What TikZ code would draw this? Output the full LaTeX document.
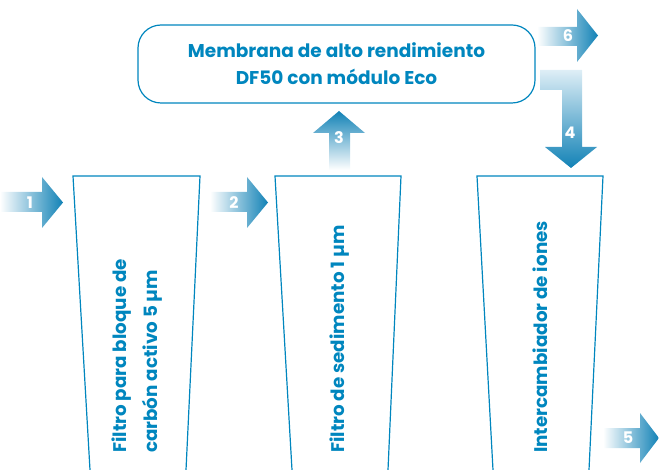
\documentclass[tikz,border=0pt]{standalone}
\usepackage{fontspec}
\setmainfont{Poppins}
\definecolor{ecoblue}{RGB}{0,134,190}
\definecolor{arrowdark}{RGB}{18,130,182}
\definecolor{arrowlight}{RGB}{222,238,246}
\begin{document}
\begin{tikzpicture}[x=1pt,y=-1pt,
  outline/.style={draw=ecoblue,line width=1.2pt},
  harrow/.style={shading=axis,left color=white,right color=arrowdark,draw=none},
  darrow/.style={shading=axis,top color=arrowlight,bottom color=arrowdark,draw=none},
  uarrow/.style={shading=axis,top color=arrowdark,bottom color=white,draw=none},
  num/.style={text=white,font=\bfseries\fontsize{16}{16}\selectfont,inner sep=0pt},
  ftext/.style={text=ecoblue,font=\bfseries\fontsize{18.3}{31}\selectfont,rotate=90,anchor=west,align=left,inner sep=0pt},
  btext/.style={text=ecoblue,font=\bfseries\fontsize{18.5}{27}\selectfont,align=center}]
\useasboundingbox (0,0) rectangle (659,470);
% membrane box
\node[outline,rounded corners=23pt,minimum width=397pt,minimum height=78pt,btext] (membrana) at (336.5,64)
  {Membrana de alto rendimiento\\DF50 con módulo Eco};
% filters
\coordinate (f1bl) at (90,470); \coordinate (f1tl) at (73,176);
\coordinate (f1tr) at (200,176); \coordinate (f1br) at (186,470);
\coordinate (f2bl) at (292,470); \coordinate (f2tl) at (275,176);
\coordinate (f2tr) at (401,176); \coordinate (f2br) at (388,470);
\coordinate (f3bl) at (493,470); \coordinate (f3tl) at (477,176);
\coordinate (f3tr) at (603,176); \coordinate (f3br) at (589,470);
\draw[outline] (f1bl) -- (f1tl) -- (f1tr) -- (f1br);
\draw[outline] (f2bl) -- (f2tl) -- (f2tr) -- (f2br);
\draw[outline] (f3bl) -- (f3tl) -- (f3tr) -- (f3br);
\node[ftext] (t1) at (137,453) {Filtro para bloque de\\carbón activo 5 µm};
\node[ftext] (t2) at (340,453) {Filtro de sedimento 1 µm};
\node[ftext] (t3) at (540,453) {Intercambiador de iones};
% arrows
\path[harrow] (0,192) -- (42,192) -- (42,177) -- (63,202.5) -- (42,228) -- (42,212) -- (0,212) -- cycle;
\path[harrow] (210,192) -- (247,192) -- (247,177) -- (268,202.5) -- (247,228) -- (247,212) -- (210,212) -- cycle;
\path[uarrow] (329,170) -- (329,133) -- (313,133) -- (339,111) -- (365,133) -- (350,133) -- (350,170) -- cycle;
\path[darrow] (540,70) -- (582,70) -- (582,147) -- (597,147) -- (571,168) -- (545,147) -- (562,147) -- (562,90) -- (540,90) -- cycle;
\path[harrow] (603,428) -- (640,428) -- (640,413) -- (659,438) -- (640,463) -- (640,448) -- (603,448) -- cycle;
\path[harrow] (537,27) -- (577,27) -- (577,9) -- (598,35.5) -- (577,62) -- (577,46) -- (537,46) -- cycle;
\node[num] (n1) at (30,203) {1};
\node[num] (n2) at (234,203) {2};
\node[num] (n3) at (339,138) {3};
\node[num] (n4) at (570,133) {4};
\node[num] (n5) at (628,438) {5};
\node[num] (n6) at (568,36) {6};
\end{tikzpicture}
\end{document}
